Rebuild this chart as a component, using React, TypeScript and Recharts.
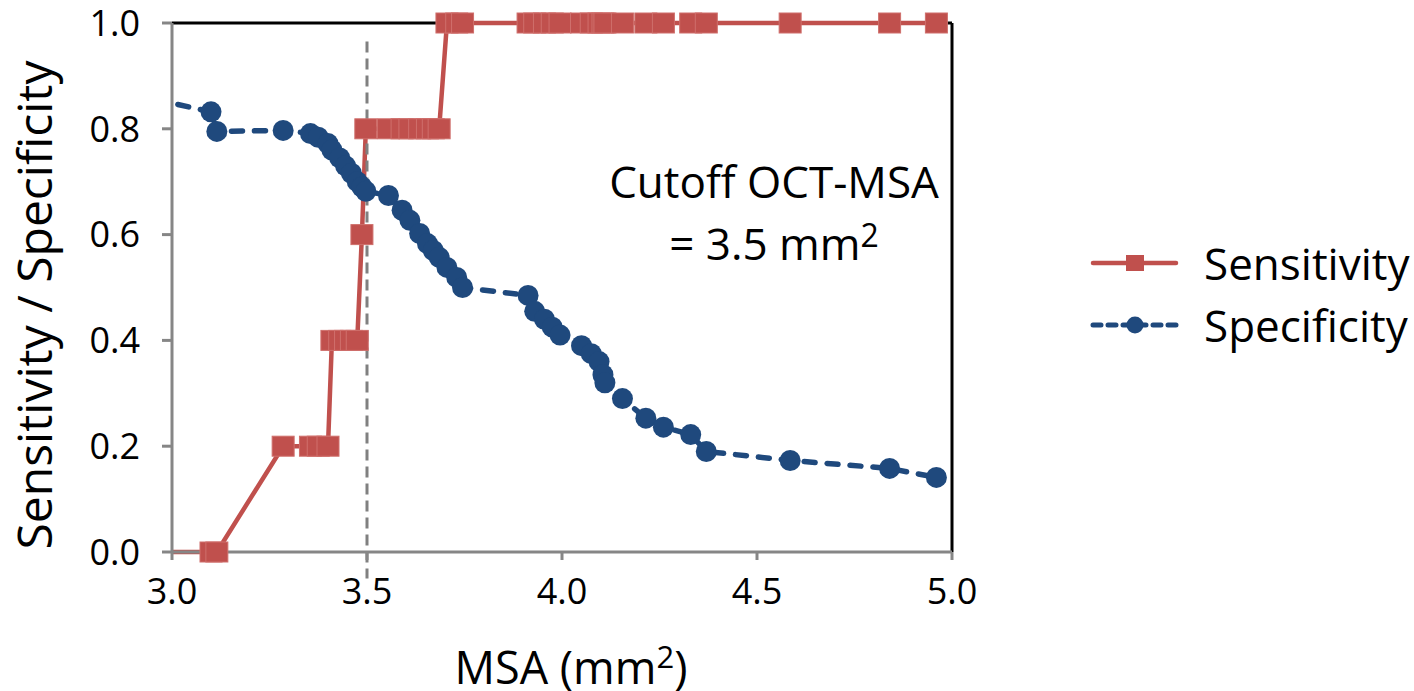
import { LineChart, Line, XAxis, YAxis, ReferenceLine, Legend, Label } from 'recharts'

const FONT = '"Open Sans", "DejaVu Sans", sans-serif'
const RED = '#C0504D'
const BLUE = '#1F497D'
const AXIS = '#868686'

// MSA cutoff values (mm2); the first one lies left of the visible axis range
const msa = [
  2.9, 3.1, 3.115, 3.285, 3.355, 3.375, 3.4, 3.41, 3.43, 3.445, 3.46, 3.475, 3.487, 3.497,
  3.555, 3.59, 3.61, 3.635, 3.655, 3.67, 3.685, 3.705, 3.73, 3.745, 3.913, 3.93, 3.955,
  3.975, 3.995, 4.05, 4.075, 4.095, 4.105, 4.11, 4.155, 4.215, 4.26, 4.33, 4.37, 4.585,
  4.84, 4.96,
]
const sensitivity = [
  0, 0, 0, 0.2, 0.2, 0.2, 0.2, 0.4, 0.4, 0.4, 0.4, 0.4, 0.6, 0.8,
  0.8, 0.8, 0.8, 0.8, 0.8, 0.8, 0.8, 1, 1, 1, 1, 1, 1,
  1, 1, 1, 1, 1, 1, 1, 1, 1, 1, 1, 1, 1,
  1, 1,
]
const specificity = [
  0.865, 0.832, 0.795, 0.797, 0.791, 0.784, 0.772, 0.76, 0.745, 0.73, 0.716, 0.7, 0.69, 0.682,
  0.674, 0.646, 0.627, 0.602, 0.583, 0.57, 0.557, 0.538, 0.519, 0.5, 0.485, 0.455, 0.44,
  0.425, 0.41, 0.39, 0.375, 0.36, 0.335, 0.32, 0.29, 0.253, 0.236, 0.222, 0.19, 0.173,
  0.158, 0.141,
]
const xTicks = [3, 3.5, 4, 4.5, 5]
const yTicks = [0, 0.2, 0.4, 0.6, 0.8, 1]
const cutoff = 3.5

const rows = msa.map((x, i) => ({ x, sens: sensitivity[i], spec: specificity[i] }))
// markers only for the points inside the axis range
const markerRows = rows.filter((r) => r.x >= 3)

const RedSquare = (p: any) => (
  <rect key={`s${p.index}`} x={p.cx - 11} y={p.cy - 10} width={22} height={20} fill={RED} stroke="#cf6f6c" strokeWidth={1} />
)
const BlueDot = (p: any) => <circle key={`c${p.index}`} cx={p.cx} cy={p.cy} r={10.5} fill={BLUE} />

function LegendBox() {
  const row = { display: 'flex', alignItems: 'center', height: 62 }
  return (
    <div style={{ fontFamily: FONT, fontSize: 44, color: '#000' }}>
      <div style={row}>
        <svg width={90} height={24}>
          <line x1={3} y1={12} x2={86} y2={12} stroke={RED} strokeWidth={4.5} strokeLinecap="round" />
          <rect x={36} y={4} width={18} height={16} fill={RED} />
        </svg>
        <span style={{ marginLeft: 24 }}>Sensitivity</span>
      </div>
      <div style={row}>
        <svg width={90} height={24}>
          <line x1={3} y1={12} x2={86} y2={12} stroke={BLUE} strokeWidth={5} strokeDasharray="8 7" strokeLinecap="round" />
          <circle cx={45} cy={12} r={8.5} fill={BLUE} />
        </svg>
        <span style={{ marginLeft: 24 }}>Specificity</span>
      </div>
    </div>
  )
}

export default function App() {
  const tick = { fontFamily: FONT, fontSize: 36, fill: '#000' }
  return (
    <div style={{ position: 'absolute', left: 0, top: 0, width: 1414, height: 691, background: '#fff' }}>
      <LineChart width={1414} height={691} margin={{ top: 23, right: 142, bottom: 79, left: 72 }}>
        <XAxis
          xAxisId="clip"
          type="number"
          dataKey="x"
          domain={[3, 5]}
          allowDataOverflow
          height={0}
          hide
        />
        <XAxis
          xAxisId="main"
          type="number"
          dataKey="x"
          domain={[3, 5]}
          ticks={xTicks}
          tickFormatter={(v: number) => v.toFixed(1)}
          tick={tick}
          tickSize={8}
          tickMargin={18}
          height={60}
          axisLine={{ stroke: AXIS, strokeWidth: 3 }}
          tickLine={{ stroke: AXIS, strokeWidth: 3 }}
        >
          <Label
            content={() => (
              <text x={571} y={684} textAnchor="middle" fontFamily={FONT} fontSize={45} fill="#000">
                <tspan>MSA (mm</tspan>
                <tspan dy={-16} fontSize={31}>2</tspan>
                <tspan dy={16}>)</tspan>
              </text>
            )}
          />
        </XAxis>
        <YAxis
          type="number"
          domain={[0, 1]}
          ticks={yTicks}
          tickFormatter={(v: number) => v.toFixed(1)}
          tick={tick}
          tickSize={10}
          tickMargin={22}
          width={100}
          axisLine={{ stroke: AXIS, strokeWidth: 3 }}
          tickLine={{ stroke: AXIS, strokeWidth: 3 }}
        >
          <Label
            content={() => (
              <text
                x={52}
                y={305}
                transform="rotate(-90 52 305)"
                textAnchor="middle"
                fontFamily={FONT}
                fontSize={48}
                fill="#000"
              >
                Sensitivity / Specificity
              </text>
            )}
          />
        </YAxis>
        <ReferenceLine xAxisId="main" y={1} stroke="#000" strokeWidth={3} />
        <ReferenceLine xAxisId="main" x={5} stroke="#000" strokeWidth={3} />
        <Legend
          layout="vertical"
          align="right"
          verticalAlign="middle"
          content={() => <LegendBox />}
          wrapperStyle={{ left: 1090, top: 232, width: 320, height: 130 }}
        />
        <Line
          xAxisId="clip"
          data={rows}
          dataKey="spec"
          stroke={BLUE}
          strokeWidth={5.5}
          strokeDasharray="11 12"
          strokeLinecap="round"
          dot={false}
          activeDot={false}
          isAnimationActive={false}
        />
        <Line
          xAxisId="main"
          data={markerRows}
          dataKey="spec"
          stroke="none"
          dot={BlueDot}
          activeDot={false}
          legendType="none"
          isAnimationActive={false}
        />
        <Line
          xAxisId="clip"
          data={rows}
          dataKey="sens"
          stroke={RED}
          strokeWidth={4.5}
          dot={false}
          activeDot={false}
          isAnimationActive={false}
        />
        <Line
          xAxisId="main"
          data={markerRows}
          dataKey="sens"
          stroke="none"
          dot={RedSquare}
          activeDot={false}
          legendType="none"
          isAnimationActive={false}
        />
        <ReferenceLine
          xAxisId="main"
          segment={[{ x: cutoff, y: 0.965 }, { x: cutoff, y: -0.05 }]}
          ifOverflow="visible"
          stroke="#808080"
          strokeWidth={3}
          strokeDasharray="11 6"
        />
      </LineChart>
      <div
        style={{
          position: 'absolute',
          left: 574,
          top: 150,
          width: 400,
          textAlign: 'center',
          fontFamily: FONT,
          fontSize: 44,
          lineHeight: '62px',
          color: '#000',
        }}
      >
        <div>Cutoff OCT-MSA</div>
        <div>
          = 3.5 mm<span style={{ fontSize: 32, position: 'relative', top: -13 }}>2</span>
        </div>
      </div>
    </div>
  )
}
